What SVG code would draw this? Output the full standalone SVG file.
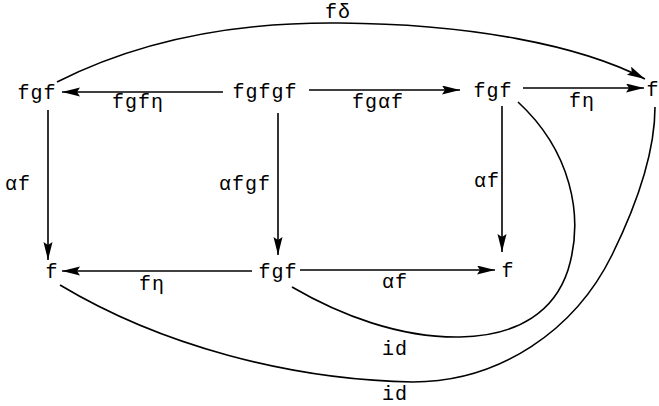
<svg xmlns="http://www.w3.org/2000/svg" width="659" height="406" viewBox="0 0 659 406">
<style>
text{font-family:"Liberation Mono","DejaVu Sans Mono",monospace;font-size:20px;fill:#000;text-anchor:middle;letter-spacing:1px}
.c{fill:none;stroke:#000;stroke-width:1.6}
</style>
<defs>
<marker id="ah" markerUnits="userSpaceOnUse" markerWidth="20" markerHeight="10" refX="18" refY="4.5" orient="auto">
<path d="M0,0 L18,4.5 L0,9 L3,4.5 z" fill="#000"/>
</marker>
</defs>
<g id="connectors">
<path class="c" d="M223 92 L62 92" marker-end="url(#ah)"/>
<path class="c" d="M309 90 L460 90" marker-end="url(#ah)"/>
<path class="c" d="M523 88 L644 88" marker-end="url(#ah)"/>
<path class="c" d="M252 271 L62 271" marker-end="url(#ah)"/>
<path class="c" d="M300 270 L495 270" marker-end="url(#ah)"/>
<path class="c" d="M48 110 L48 260" marker-end="url(#ah)"/>
<path class="c" d="M278 113 L278 255" marker-end="url(#ah)"/>
<path class="c" d="M502 106 L502 252" marker-end="url(#ah)"/>
<path class="c" d="M57 82 C150 35 250 22 340 23 C470 24 580 45 645 79" marker-end="url(#ah)"/>
<path class="c" d="M292 287 C340 315 400 338 460 337 C520 336 555 310 568 270 C585 215 570 150 518 102"/>
<path class="c" d="M60 285 C160 345 290 380 413 382 C500 382 575 330 612 255 C640 198 655 150 655 107"/>
</g>
<g id="labels">
<text x="338" y="18">fδ</text>
<text x="138" y="108">fgfη</text>
<text x="378" y="108">fgαf</text>
<text x="582" y="107">fη</text>
<text x="18" y="190">αf</text>
<text x="245" y="190">αfgf</text>
<text x="487" y="187">αf</text>
<text x="152" y="290">fη</text>
<text x="395" y="288">αf</text>
<text x="395" y="355">id</text>
<text x="395" y="400">id</text>
</g>
<g id="n1"><text x="37" y="99">fgf</text></g>
<g id="n2"><text x="265" y="98">fgfgf</text></g>
<g id="n3"><text x="493" y="97">fgf</text></g>
<g id="n4"><text x="653" y="96">f</text></g>
<g id="n5"><text x="52" y="278">f</text></g>
<g id="n6"><text x="278" y="278">fgf</text></g>
<g id="n7"><text x="508" y="277">f</text></g>
</svg>
